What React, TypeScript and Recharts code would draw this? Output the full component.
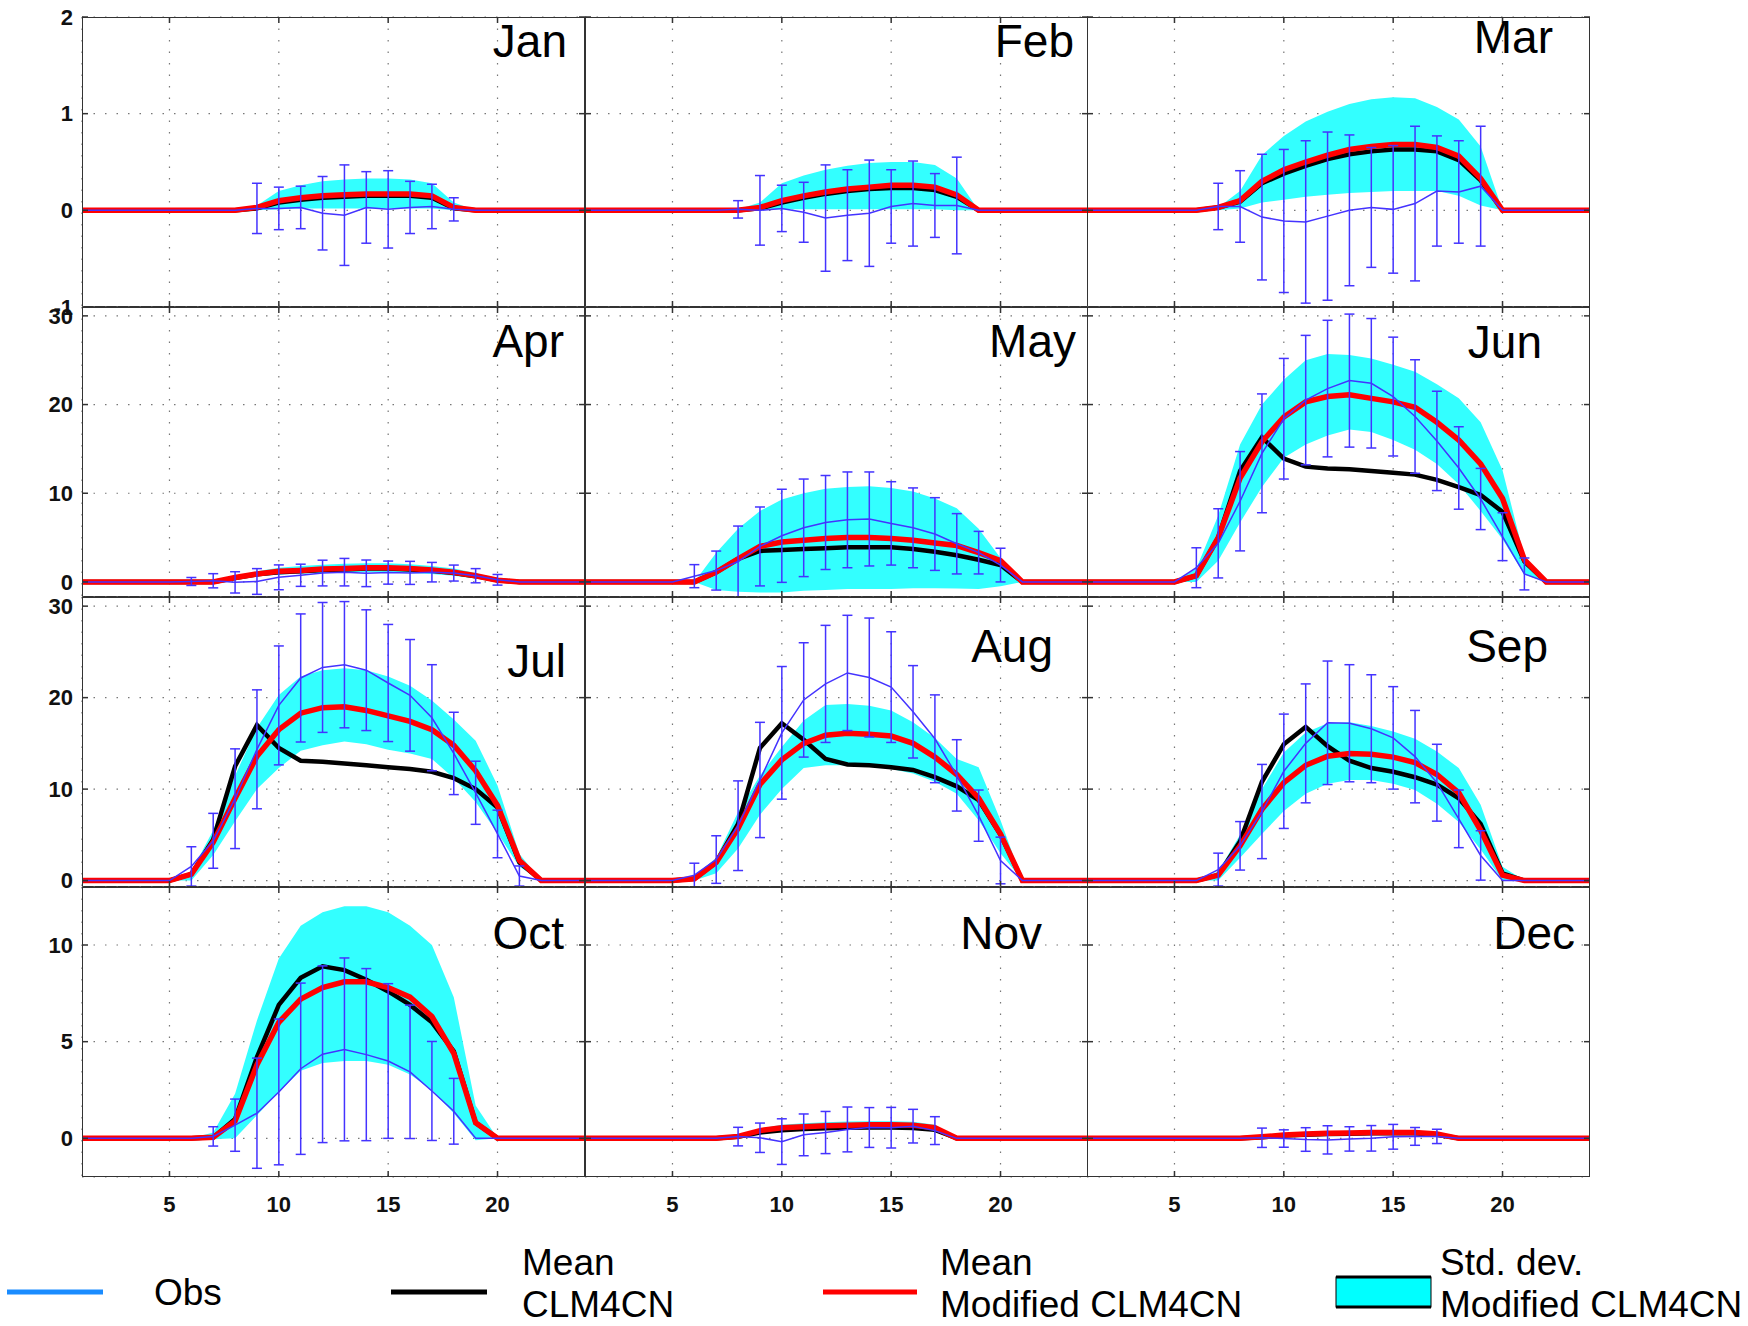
import React from 'react';
import { ComposedChart, Line, Area, XAxis, YAxis, CartesianGrid, ReferenceLine, ErrorBar } from 'recharts';

const months = ['Jan', 'Feb', 'Mar', 'Apr', 'May', 'Jun', 'Jul', 'Aug', 'Sep', 'Oct', 'Nov', 'Dec'];
const hours = [1, 2, 3, 4, 5, 6, 7, 8, 9, 10, 11, 12, 13, 14, 15, 16, 17, 18, 19, 20, 21, 22, 23, 24];
const xTicks = [5, 10, 15, 20];

// y range + ticks for each row of panels
const rowDomains: [number, number][] = [[-1, 2], [-1.7, 31], [-0.7, 31], [-2, 13]];
const rowTicks = [[-1, 0, 1, 2], [0, 10, 20, 30], [0, 10, 20, 30], [0, 5, 10]];

// observed mean (thin blue line)
const obsMean: number[][] = [
  [0, 0, 0, 0, 0, 0, 0, 0, 0.02, 0.02, 0.03, -0.03, -0.05, 0.03, 0.01, 0.03, 0.04, 0.01, 0, 0, 0, 0, 0, 0],
  [0, 0, 0, 0, 0, 0, 0, 0.01, 0, 0.02, -0.02, -0.08, -0.05, -0.03, 0.04, 0.07, 0.05, 0.05, 0, 0, 0, 0, 0, 0],
  [0, 0, 0, 0, 0, 0, 0.04, 0.04, -0.07, -0.11, -0.12, -0.06, 0, 0.03, 0.01, 0.07, 0.2, 0.19, 0.25, 0, 0, 0, 0, 0],
  [0, 0, 0, 0, 0, 0.05, 0.13, -0.05, 0.05, 0.52, 0.75, 1.0, 1.1, 0.97, 1.05, 1.02, 1.1, 1.0, 0.7, 0.24, 0, 0, 0, 0],
  [0, 0, 0, 0, 0, 0.65, 1.28, 2.3, 4.0, 5.2, 6.1, 6.7, 7.0, 7.1, 6.6, 6.1, 5.4, 4.3, 3.3, 1.9, 0, 0, 0, 0],
  [0, 0, 0, 0, 0, 1.6, 4.35, 9.1, 14.5, 18.4, 20.5, 21.8, 22.7, 22.4, 20.9, 18.65, 15.9, 12.85, 9.35, 5.1, 0.9, 0, 0, 0],
  [0, 0, 0, 0, 0, 1.55, 4.35, 8.95, 14.35, 19.15, 22.15, 23.3, 23.6, 23.0, 21.6, 20.25, 17.8, 13.9, 9.6, 5.1, 0.5, 0, 0, 0],
  [0, 0, 0, 0, 0, 0.6, 2.3, 6.0, 11.0, 16.15, 19.75, 21.5, 22.7, 22.2, 21.15, 18.45, 15.5, 11.5, 7.1, 2.2, 0, 0, 0, 0],
  [0, 0, 0, 0, 0, 0, 1.2, 3.8, 7.55, 11.95, 15.0, 17.25, 17.2, 16.6, 15.6, 13.55, 10.7, 6.75, 2.75, 0, 0, 0, 0, 0],
  [0, 0, 0, 0, 0, 0, 0.1, 0.68, 1.3, 2.4, 3.6, 4.35, 4.6, 4.33, 4.0, 3.44, 2.45, 1.4, 0, 0, 0, 0, 0, 0],
  [0, 0, 0, 0, 0, 0, 0, 0.09, 0.03, -0.17, 0.18, 0.3, 0.46, 0.56, 0.55, 0.63, 0.4, 0, 0, 0, 0, 0, 0, 0],
  [0, 0, 0, 0, 0, 0, 0, 0, 0.03, -0.01, -0.06, -0.08, -0.03, 0, 0.08, 0.1, 0.1, 0, 0, 0, 0, 0, 0, 0],
];

// observed std dev (error bars), 0 = no bar
const obsStd: number[][] = [
  [0, 0, 0, 0, 0, 0, 0, 0, 0.26, 0.22, 0.22, 0.38, 0.52, 0.37, 0.4, 0.27, 0.23, 0.12, 0, 0, 0, 0, 0, 0],
  [0, 0, 0, 0, 0, 0, 0, 0.09, 0.36, 0.24, 0.31, 0.55, 0.47, 0.55, 0.38, 0.44, 0.33, 0.5, 0, 0, 0, 0, 0, 0],
  [0, 0, 0, 0, 0, 0, 0.24, 0.37, 0.65, 0.74, 0.84, 0.87, 0.78, 0.62, 0.66, 0.8, 0.57, 0.53, 0.62, 0, 0, 0, 0, 0],
  [0, 0, 0, 0, 0, 0.45, 0.8, 1.2, 1.45, 1.4, 1.25, 1.45, 1.55, 1.5, 1.3, 1.3, 1.1, 0.9, 0.8, 0.6, 0, 0, 0, 0],
  [0, 0, 0, 0, 0, 1.3, 2.2, 4.0, 4.45, 5.25, 5.5, 5.3, 5.4, 5.3, 4.7, 4.5, 4.1, 3.4, 2.4, 1.9, 0, 0, 0, 0],
  [0, 0, 0, 0, 0, 2.25, 3.9, 5.6, 6.7, 6.8, 7.3, 7.7, 7.5, 7.3, 6.7, 6.4, 5.6, 4.65, 3.45, 2.7, 1.8, 0, 0, 0],
  [0, 0, 0, 0, 0, 2.15, 3.0, 5.45, 6.5, 6.5, 7.0, 7.1, 6.9, 6.6, 6.4, 6.1, 5.8, 4.5, 3.45, 2.6, 1.1, 0, 0, 0],
  [0, 0, 0, 0, 0, 1.3, 2.6, 4.9, 6.3, 7.25, 6.25, 6.4, 6.3, 6.5, 6.05, 5.05, 4.8, 3.9, 2.8, 2.55, 0, 0, 0, 0],
  [0, 0, 0, 0, 0, 0, 1.8, 2.65, 5.15, 6.25, 6.5, 6.75, 6.4, 5.9, 5.6, 5.05, 4.2, 3.15, 2.7, 0, 0, 0, 0, 0],
  [0, 0, 0, 0, 0, 0, 0.5, 1.35, 2.85, 3.77, 4.43, 4.57, 4.73, 4.45, 4.0, 3.45, 2.56, 1.7, 0, 0, 0, 0, 0, 0],
  [0, 0, 0, 0, 0, 0, 0, 0.48, 0.76, 1.18, 1.08, 1.09, 1.16, 1.03, 1.05, 0.87, 0.72, 0, 0, 0, 0, 0, 0, 0],
  [0, 0, 0, 0, 0, 0, 0, 0, 0.5, 0.45, 0.61, 0.73, 0.63, 0.66, 0.64, 0.46, 0.37, 0, 0, 0, 0, 0, 0, 0],
];

// mean CLM4CN (black)
const clmMean: number[][] = [
  [0, 0, 0, 0, 0, 0, 0, 0, 0.02, 0.08, 0.11, 0.13, 0.14, 0.15, 0.15, 0.15, 0.13, 0.02, 0, 0, 0, 0, 0, 0],
  [0, 0, 0, 0, 0, 0, 0, 0, 0.02, 0.08, 0.13, 0.17, 0.2, 0.22, 0.23, 0.23, 0.21, 0.14, 0, 0, 0, 0, 0, 0],
  [0, 0, 0, 0, 0, 0, 0.03, 0.09, 0.28, 0.38, 0.46, 0.53, 0.58, 0.61, 0.63, 0.63, 0.61, 0.52, 0.31, 0, 0, 0, 0, 0],
  [0, 0, 0, 0, 0, 0, 0, 0.45, 0.85, 1.1, 1.2, 1.35, 1.4, 1.5, 1.5, 1.4, 1.25, 1.0, 0.65, 0.2, 0, 0, 0, 0],
  [0, 0, 0, 0, 0, 0, 1.1, 2.6, 3.5, 3.6, 3.7, 3.8, 3.9, 3.9, 3.9, 3.7, 3.4, 3.0, 2.5, 1.9, 0, 0, 0, 0],
  [0, 0, 0, 0, 0, 0.7, 5.0, 12.5, 16.3, 13.9, 13.0, 12.8, 12.7, 12.5, 12.3, 12.1, 11.5, 10.7, 9.8, 7.9, 2.3, 0, 0, 0],
  [0, 0, 0, 0, 0, 0.7, 4.5, 12.5, 17.0, 14.5, 13.1, 13.0, 12.8, 12.6, 12.4, 12.2, 11.9, 11.2, 10.0, 8.0, 2.0, 0, 0, 0],
  [0, 0, 0, 0, 0, 0.2, 2.0, 6.2, 14.5, 17.2, 15.4, 13.3, 12.7, 12.6, 12.4, 12.1, 11.3, 10.3, 8.8, 5.0, 0, 0, 0, 0],
  [0, 0, 0, 0, 0, 0, 0.6, 4.3, 10.8, 14.9, 16.8, 14.7, 13.1, 12.3, 11.9, 11.3, 10.5, 9.0, 6.2, 0.8, 0, 0, 0, 0],
  [0, 0, 0, 0, 0, 0, 0.05, 1.0, 4.2, 6.9, 8.3, 8.9, 8.7, 8.2, 7.6, 6.9, 6.0, 4.5, 0.8, 0, 0, 0, 0, 0],
  [0, 0, 0, 0, 0, 0, 0, 0.08, 0.3, 0.42, 0.48, 0.52, 0.55, 0.56, 0.56, 0.54, 0.44, 0, 0, 0, 0, 0, 0, 0],
  [0, 0, 0, 0, 0, 0, 0, 0, 0.06, 0.14, 0.19, 0.22, 0.24, 0.26, 0.26, 0.26, 0.19, 0, 0, 0, 0, 0, 0, 0],
];

// mean modified CLM4CN (red)
const modMean: number[][] = [
  [0, 0, 0, 0, 0, 0, 0, 0, 0.03, 0.1, 0.13, 0.15, 0.16, 0.17, 0.17, 0.17, 0.15, 0.03, 0, 0, 0, 0, 0, 0],
  [0, 0, 0, 0, 0, 0, 0, 0, 0.03, 0.1, 0.15, 0.19, 0.22, 0.24, 0.26, 0.26, 0.24, 0.16, 0, 0, 0, 0, 0, 0],
  [0, 0, 0, 0, 0, 0, 0.03, 0.1, 0.3, 0.42, 0.5, 0.57, 0.63, 0.66, 0.68, 0.68, 0.65, 0.56, 0.33, 0, 0, 0, 0, 0],
  [0, 0, 0, 0, 0, 0, 0, 0.5, 0.9, 1.2, 1.3, 1.45, 1.5, 1.6, 1.6, 1.5, 1.35, 1.1, 0.7, 0.2, 0, 0, 0, 0],
  [0, 0, 0, 0, 0, 0, 1.1, 2.6, 4.0, 4.5, 4.7, 4.9, 5.0, 5.0, 4.9, 4.7, 4.4, 4.1, 3.3, 2.4, 0, 0, 0, 0],
  [0, 0, 0, 0, 0, 0.7, 5.0, 11.7, 15.8, 18.6, 20.3, 20.9, 21.1, 20.7, 20.3, 19.7, 18.0, 16.0, 13.3, 9.4, 2.5, 0, 0, 0],
  [0, 0, 0, 0, 0, 0.7, 4.2, 9.0, 13.6, 16.5, 18.3, 18.9, 19.0, 18.6, 18.0, 17.4, 16.5, 14.8, 12.0, 8.2, 2.2, 0, 0, 0],
  [0, 0, 0, 0, 0, 0.2, 2.0, 5.7, 10.5, 13.2, 15.0, 15.9, 16.1, 16.0, 15.8, 15.0, 13.5, 11.6, 9.0, 5.1, 0, 0, 0, 0],
  [0, 0, 0, 0, 0, 0, 0.6, 3.8, 7.8, 10.7, 12.6, 13.6, 13.9, 13.8, 13.5, 12.9, 11.6, 9.6, 5.5, 0.6, 0, 0, 0, 0],
  [0, 0, 0, 0, 0, 0, 0.05, 0.9, 3.8, 6.0, 7.2, 7.8, 8.1, 8.1, 7.8, 7.3, 6.3, 4.4, 0.8, 0, 0, 0, 0, 0],
  [0, 0, 0, 0, 0, 0, 0, 0.1, 0.4, 0.55, 0.6, 0.65, 0.68, 0.7, 0.7, 0.68, 0.55, 0, 0, 0, 0, 0, 0, 0],
  [0, 0, 0, 0, 0, 0, 0, 0, 0.08, 0.17, 0.22, 0.26, 0.28, 0.3, 0.3, 0.3, 0.22, 0, 0, 0, 0, 0, 0, 0],
];

// std dev band of modified CLM4CN (cyan): lower and upper edge
const modLow: number[][] = [
  [0, 0, 0, 0, 0, 0, 0, 0, 0, 0.01, 0.02, 0.02, 0.02, 0.02, 0.02, 0.02, 0.02, 0, 0, 0, 0, 0, 0, 0],
  [0, 0, 0, 0, 0, 0, 0, 0, 0, 0.01, 0.01, 0.01, 0.01, 0.01, 0.01, 0.01, 0.01, 0, 0, 0, 0, 0, 0, 0],
  [0, 0, 0, 0, 0, 0, 0, 0.02, 0.08, 0.11, 0.14, 0.16, 0.18, 0.19, 0.2, 0.2, 0.2, 0.15, 0.05, 0, 0, 0, 0, 0],
  [0, 0, 0, 0, 0, 0, 0, 0.3, 0.6, 0.85, 0.95, 1.0, 1.05, 1.1, 1.1, 1.0, 0.9, 0.7, 0.4, 0.1, 0, 0, 0, 0],
  [0, 0, 0, 0, 0, 0, -0.9, -1.1, -1.2, -1.2, -1.0, -0.9, -0.8, -0.8, -0.8, -0.7, -0.7, -0.75, -0.8, -0.5, 0, 0, 0, 0],
  [0, 0, 0, 0, 0, 0, 2.4, 6.7, 10.7, 14.0, 15.5, 16.5, 17.2, 16.9, 16.0, 14.9, 13.3, 11.0, 8.0, 4.8, 0.8, 0, 0, 0],
  [0, 0, 0, 0, 0, 0, 2.8, 6.5, 10.0, 12.3, 14.2, 14.8, 15.2, 14.9, 14.3, 13.9, 13.3, 11.2, 8.6, 5.2, 1.5, 0, 0, 0],
  [0, 0, 0, 0, 0, 0, 0.8, 3.5, 7.2, 10.0, 12.3, 12.6, 12.6, 12.5, 12.2, 11.7, 10.8, 9.5, 6.6, 3.0, 0, 0, 0, 0],
  [0, 0, 0, 0, 0, 0, 0, 2.5, 5.1, 7.6, 9.5, 10.6, 11.0, 11.0, 10.6, 9.9, 8.4, 6.4, 3.4, 0, 0, 0, 0, 0],
  [0, 0, 0, 0, 0, 0, -0.05, 0, 1.2, 2.4, 3.5, 3.9, 4.0, 4.0, 3.8, 3.3, 2.5, 1.3, -0.1, 0, 0, 0, 0, 0],
  [0, 0, 0, 0, 0, 0, 0, 0.05, 0.25, 0.35, 0.4, 0.45, 0.48, 0.5, 0.5, 0.48, 0.38, 0, 0, 0, 0, 0, 0, 0],
  [0, 0, 0, 0, 0, 0, 0, 0, 0.04, 0.1, 0.13, 0.16, 0.18, 0.2, 0.2, 0.2, 0.14, 0, 0, 0, 0, 0, 0, 0],
];
const modHigh: number[][] = [
  [0, 0, 0, 0, 0, 0, 0, 0, 0.05, 0.2, 0.26, 0.3, 0.32, 0.33, 0.33, 0.32, 0.28, 0.08, 0, 0, 0, 0, 0, 0],
  [0, 0, 0, 0, 0, 0, 0, 0.01, 0.08, 0.28, 0.36, 0.42, 0.46, 0.49, 0.5, 0.5, 0.47, 0.33, 0, 0, 0, 0, 0, 0],
  [0, 0, 0, 0, 0, 0, 0.03, 0.2, 0.57, 0.77, 0.92, 1.02, 1.1, 1.15, 1.17, 1.16, 1.07, 0.94, 0.66, 0, 0, 0, 0, 0],
  [0, 0, 0, 0, 0, 0, 0, 0.7, 1.2, 1.6, 1.8, 1.95, 2.05, 2.1, 2.1, 2.0, 1.8, 1.5, 1.0, 0.35, 0, 0, 0, 0],
  [0, 0, 0, 0, 0, 0, 3.3, 6.0, 8.0, 9.3, 10.0, 10.5, 10.7, 10.8, 10.6, 10.2, 9.4, 8.3, 6.0, 2.7, 0, 0, 0, 0],
  [0, 0, 0, 0, 0, 1.5, 7.5, 15.5, 20.0, 22.8, 25.0, 25.7, 25.6, 25.2, 24.5, 23.7, 22.3, 20.7, 18.0, 12.6, 2.8, 0, 0, 0],
  [0, 0, 0, 0, 0, 1.0, 5.5, 11.5, 16.7, 20.3, 22.3, 23.0, 23.2, 23.0, 22.3, 21.3, 19.7, 17.6, 15.3, 10.4, 2.9, 0, 0, 0],
  [0, 0, 0, 0, 0, 0.5, 2.5, 7.5, 11.5, 14.6, 17.5, 19.2, 19.3, 19.1, 18.6, 17.3, 15.6, 13.3, 12.4, 6.6, 0, 0, 0, 0],
  [0, 0, 0, 0, 0, 0, 1.0, 5.0, 10.0, 14.0, 16.2, 17.2, 17.3, 16.9, 16.3, 15.5, 14.1, 12.3, 8.3, 1.5, 0, 0, 0, 0],
  [0, 0, 0, 0, 0, 0, 0.3, 2.3, 6.1, 9.3, 11.0, 11.7, 12.0, 12.0, 11.7, 11.0, 10.0, 7.3, 1.7, 0, 0, 0, 0, 0],
  [0, 0, 0, 0, 0, 0, 0, 0.12, 0.5, 0.7, 0.78, 0.83, 0.87, 0.88, 0.88, 0.86, 0.7, 0, 0, 0, 0, 0, 0, 0],
  [0, 0, 0, 0, 0, 0, 0, 0, 0.12, 0.25, 0.32, 0.36, 0.39, 0.41, 0.41, 0.41, 0.32, 0, 0, 0, 0, 0, 0, 0],
];

// layout (px)
const PLOT_LEFT = 82;
const PLOT_TOP = 17;
const COL_STEP = 502.7;
const PANEL_W = 503;
const PANEL_H = 290;
const AXIS_W = 82;
const AXIS_H = 50;
const PAD = 16;
// month label: right edge x, baseline y
const labelPos = [
  [567, 57], [1074, 57], [1553, 53],
  [564, 357], [1076, 357], [1542, 358],
  [566, 677], [1053, 662], [1548, 662],
  [564, 949], [1042, 949], [1575, 949],
];

const FONT = '"Liberation Sans", Arial, Helvetica, sans-serif';
const OBS_BLUE = '#4433ff';
const CYAN = '#33ffff';
const tickStyle = { fontSize: 22, fontWeight: 700, fill: '#111', fontFamily: FONT };

function Panel({ m }: { m: number }) {
  const row = Math.floor(m / 3);
  const col = m % 3;
  const [lo, hi] = rowDomains[row];
  const showY = col === 0;
  const showX = row === 3;
  const left = Math.round(PLOT_LEFT + col * COL_STEP);
  const top = PLOT_TOP + row * PANEL_H;
  const w = PANEL_W + (showY ? AXIS_W : 0);
  const h = PANEL_H + PAD + (showX ? AXIS_H : PAD);

  const data = hours.map((hr, i) => ({
    hour: hr,
    obs: obsMean[m][i],
    err: obsStd[m][i],
    clm: clmMean[m][i],
    mod: modMean[m][i],
    band: [modLow[m][i], modHigh[m][i]],
  }));

  // small inward tick marks, 6px long
  const dy = ((hi - lo) * 6) / PANEL_H;
  const dx = (23 * 6) / PANEL_W;

  return (
    <div style={{ position: 'absolute', left: left - (showY ? AXIS_W : 0), top: top - PAD }}>
      <ComposedChart width={w} height={h} data={data} margin={{ top: PAD, right: 0, bottom: showX ? 0 : PAD, left: 0 }}>
        <CartesianGrid stroke="#777" strokeDasharray="1.5 10" strokeWidth={1.2} />
        <XAxis
          type="number"
          dataKey="hour"
          domain={[1, 24]}
          ticks={xTicks}
          allowDataOverflow
          hide={!showX}
          height={AXIS_H}
          axisLine={false}
          tickLine={false}
          tickSize={0}
          tickMargin={19}
          tick={tickStyle}
        />
        <YAxis
          type="number"
          domain={[lo, hi]}
          ticks={rowTicks[row]}
          allowDataOverflow
          hide={!showY}
          width={AXIS_W}
          axisLine={false}
          tickLine={false}
          tickSize={0}
          tickMargin={9}
          tick={tickStyle}
        />
        <Area type="linear" dataKey="band" fill={CYAN} fillOpacity={1} stroke="none" isAnimationActive={false} activeDot={false} dot={false} />
        <Line type="linear" dataKey="clm" stroke="#000" strokeWidth={4.5} dot={false} activeDot={false} isAnimationActive={false} />
        <Line type="linear" dataKey="mod" stroke="#ff0000" strokeWidth={5.5} dot={false} activeDot={false} isAnimationActive={false} />
        <Line type="linear" dataKey="obs" stroke={OBS_BLUE} strokeWidth={1.5} dot={false} activeDot={false} isAnimationActive={false}>
          <ErrorBar dataKey="err" stroke={OBS_BLUE} strokeWidth={1.5} width={5} isAnimationActive={false} />
        </Line>
        {xTicks.map((t) => (
          <ReferenceLine key={'b' + t} segment={[{ x: t, y: lo }, { x: t, y: lo + dy }]} stroke="#333" strokeWidth={1.5} />
        ))}
        {xTicks.map((t) => (
          <ReferenceLine key={'t' + t} segment={[{ x: t, y: hi }, { x: t, y: hi - dy }]} stroke="#333" strokeWidth={1.5} />
        ))}
        {rowTicks[row].map((t) => (
          <ReferenceLine key={'l' + t} segment={[{ x: 1, y: t }, { x: 1 + dx, y: t }]} stroke="#333" strokeWidth={1.5} />
        ))}
        {rowTicks[row].map((t) => (
          <ReferenceLine key={'r' + t} segment={[{ x: 24, y: t }, { x: 24 - dx, y: t }]} stroke="#333" strokeWidth={1.5} />
        ))}
      </ComposedChart>
      <div
        style={{
          position: 'absolute',
          left: showY ? AXIS_W : 0,
          top: PAD,
          width: PANEL_W,
          height: PANEL_H,
          border: '1.5px solid #333',
          boxSizing: 'border-box',
          pointerEvents: 'none',
        }}
      />
    </div>
  );
}

export default function App() {
  return (
    <div style={{ position: 'relative', width: 1748, height: 1326, background: '#fff', overflow: 'hidden' }}>
      <style>{'body{margin:0}'}</style>
      {months.map((_, m) => (
        <Panel key={m} m={m} />
      ))}
      <svg width={1748} height={1326} style={{ position: 'absolute', left: 0, top: 0, pointerEvents: 'none' }} fontFamily={FONT}>
        {months.map((name, m) => (
          <text key={name} x={labelPos[m][0]} y={labelPos[m][1]} fontSize={46} textAnchor="end" fill="#000">
            {name}
          </text>
        ))}
        {/* legend */}
        <line x1={7} x2={103} y1={1292} y2={1292} stroke="#1a8cff" strokeWidth={5} />
        <text x={154} y={1305} fontSize={37}>Obs</text>
        <line x1={391} x2={487} y1={1292} y2={1292} stroke="#000" strokeWidth={5} />
        <text x={522} y={1275} fontSize={37}>Mean</text>
        <text x={522} y={1317} fontSize={37}>CLM4CN</text>
        <line x1={823} x2={917} y1={1292} y2={1292} stroke="#ff0000" strokeWidth={5} />
        <text x={940} y={1275} fontSize={37}>Mean</text>
        <text x={940} y={1317} fontSize={37}>Modified CLM4CN</text>
        <rect x={1336} y={1277} width={95} height={30} fill="#00ffff" stroke="#000" strokeWidth={1} />
        <line x1={1336} x2={1431} y1={1277} y2={1277} stroke="#000" strokeWidth={3} />
        <line x1={1336} x2={1431} y1={1307} y2={1307} stroke="#000" strokeWidth={3} />
        <text x={1440} y={1275} fontSize={37}>Std. dev.</text>
        <text x={1440} y={1317} fontSize={37}>Modified CLM4CN</text>
      </svg>
    </div>
  );
}
